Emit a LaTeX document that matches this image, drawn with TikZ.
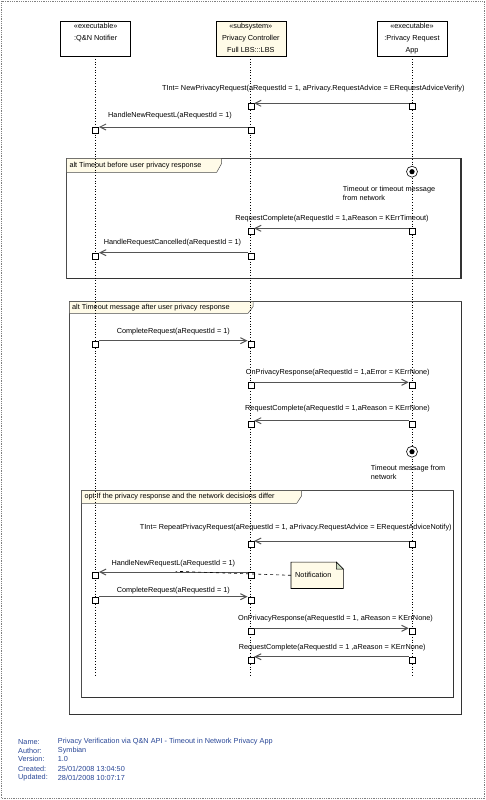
\documentclass[tikz,border=0pt]{standalone}
\usepackage{fontspec}
\setmainfont{Liberation Sans}
\usetikzlibrary{arrows.meta,positioning,backgrounds}
\definecolor{cream}{RGB}{255,251,232}
\definecolor{footblue}{RGB}{40,70,150}
\definecolor{msggray}{RGB}{85,85,85}
\definecolor{foldgreen}{RGB}{205,220,195}

\begin{document}
\begin{tikzpicture}[x=1pt,y=-1pt,
  every node/.style={font=\fontsize{7.3}{9.3}\selectfont, inner sep=0pt},
  lifebox/.style={draw, fill=white, line width=0.6pt, minimum width=70pt, minimum height=34.3pt},
  boxtext/.style={align=center, font=\fontsize{7.3}{12}\selectfont},
  actbox/.style={draw, fill=white, line width=0.6pt, anchor=north, minimum size=6pt},
  msg/.style={draw=msggray, line width=1pt, -{Straight Barb[length=6pt,width=6pt]}},
  lifeline/.style={dotted, line width=0.7pt},
  fragment/.style={draw=black!70, line width=0.6pt},
  fragedge/.style={draw=black!80, line width=1.1pt},
  tab/.style={draw=black!70, fill=cream, line width=0.5pt},
  event/.style={circle, draw, fill=white, line width=0.6pt, minimum size=11pt,
    path picture={\fill[black] (path picture bounding box.center) circle (2.6pt);}},
  notebox/.style={text width=44pt, align=left, inner xsep=4pt, minimum height=26pt},
  notelink/.style={dashed, line width=0.6pt},
  foot/.style={anchor=west, text=footblue}]
\useasboundingbox (0,0) rectangle (486,800);
\draw[gray, densely dotted, line width=0.8pt] (1.5,1.5) rectangle (484.5,798.5);

\draw[fragment] (66.7,158.3) rectangle (461,278.3);
\draw[fragedge] (66.7,278.3) -| (461,158.3);
\draw[tab] (66.7,158.3) -- (221.7,158.3) -- (221.7,163.3) -- (216.7,172.3) -- (66.7,172.3) -- cycle;
\node[anchor=west] (A1) at (69.3,165.3) {alt Timeout before user privacy response};

\draw[fragment] (69.3,301.7) rectangle (461.7,714.3);
\draw[fragedge] (69.3,714.3) -| (461.7,301.7);
\draw[tab] (69.3,301.7) -- (253,301.7) -- (253,306.7) -- (248,313.3) -- (69.3,313.3) -- cycle;
\node[anchor=west] (A2) at (71.9,307.5) {alt Timeout message after user privacy response};

\draw[fragment] (81.7,490.7) rectangle (453.3,697.3);
\draw[fragedge] (81.7,697.3) -| (453.3,490.7);
\draw[tab] (81.7,490.7) -- (301.7,490.7) -- (301.7,495.7) -- (296.7,503.3) -- (81.7,503.3) -- cycle;
\node[anchor=west] (O1) at (84.3,497) {opt If the privacy response and the network decisions differ};

\node[lifebox] (QN) at (95.7,38.85) {};
\node[lifebox, fill=cream] (PC) at (250.8,38.85) {};
\node[lifebox] (PRA) at (412,38.85) {};
\node[boxtext, below=1.8pt of QN.north] (QNt) {«executable»\\:Q\&N Notifier};
\node[boxtext, below=1.8pt of PC.north] (PCt) {«subsystem»\\Privacy Controller\\Full LBS:::LBS};
\node[boxtext, below=1.8pt of PRA.north] (PRAt) {«executable»\\:Privacy Request\\App};

\coordinate (QNend) at (95.7,676);
\coordinate (PCend) at (250.8,676);
\coordinate (PRAend) at (412,676);
\draw[lifeline] (QN) -- (QNend);
\draw[lifeline] (PC) -- (PCend);
\draw[lifeline] (PRA) -- (PRAend);

\node[event] (E1) at (412,171.7) {};
\node[anchor=north west, align=left] (E1t) at (342.7,185.8) {Timeout or timeout message\\from network};
\node[event] (E2) at (412,451.7) {};
\node[anchor=north west, align=left] (E2t) at (370.7,465.1) {Timeout message from\\network};

\node[actbox] (PRA1) at (412,103.3) {};
\node[actbox] (PC1) at (250.8,103.3) {};
\node[actbox] (PC2) at (250.8,127) {};
\node[actbox] (QN1) at (95.7,127) {};
\node[actbox] (PRA2) at (412,228.3) {};
\node[actbox] (PC3) at (250.8,228.3) {};
\node[actbox] (PC4) at (250.8,252.7) {};
\node[actbox] (QN2) at (95.7,252.7) {};
\node[actbox] (QN3) at (95.7,340.7) {};
\node[actbox] (PC5) at (250.8,340.7) {};
\node[actbox] (PC6) at (250.8,382.3) {};
\node[actbox] (PRA3) at (412,382.3) {};
\node[actbox] (PRA4) at (412,420.7) {};
\node[actbox] (PC7) at (250.8,420.7) {};
\node[actbox] (PRA5) at (412,541) {};
\node[actbox] (PC8) at (250.8,541) {};
\node[actbox] (PC9) at (250.8,572) {};
\node[actbox] (QN4) at (95.7,572) {};
\node[actbox] (QN5) at (95.7,596.7) {};
\node[actbox] (PC10) at (250.8,596.7) {};
\node[actbox] (PC11) at (250.8,628.3) {};
\node[actbox] (PRA6) at (412,628.3) {};
\node[actbox] (PRA7) at (412,656.7) {};
\node[actbox] (PC12) at (250.8,656.7) {};

\draw[msg] (PRA1.north west) -- (PC1.north east);
\draw[msg] (PC2.north west) -- (QN1.north east);
\draw[msg] (PRA2.north west) -- (PC3.north east);
\draw[msg] (PC4.north west) -- (QN2.north east);
\draw[msg] (QN3.north east) -- (PC5.north west);
\draw[msg] (PC6.north east) -- (PRA3.north west);
\draw[msg] (PRA4.north west) -- (PC7.north east);
\draw[msg] (PRA5.north west) -- (PC8.north east);
\draw[msg] (PC9.north west) -- (QN4.north east);
\draw[msg] (QN5.north east) -- (PC10.north west);
\draw[msg] (PC11.north east) -- (PRA6.north west);
\draw[msg] (PRA7.north west) -- (PC12.north east);

\node (M1) at (313.3,89) {TInt= NewPrivacyRequest(aRequestId = 1, aPrivacy.RequestAdvice = ERequestAdviceVerify)};
\node (M2) at (170,116) {HandleNewRequestL(aRequestId = 1)};
\node (M3) at (332,219) {RequestComplete(aRequestId = 1,aReason = KErrTimeout)};
\node (M4) at (172.5,242.3) {HandleRequestCancelled(aRequestId = 1)};
\node (M5) at (173.3,331.7) {CompleteRequest(aRequestId = 1)};
\node (M6) at (337.8,372.7) {OnPrivacyResponse(aRequestId = 1,aError = KErrNone)};
\node (M7) at (337.5,408.3) {RequestComplete(aRequestId = 1,aReason = KErrNone)};
\node (M8) at (295.8,527.3) {TInt= RepeatPrivacyRequest(aRequestId = 1, aPrivacy.RequestAdvice = ERequestAdviceNotify)};
\node (M9) at (173.3,563.3) {HandleNewRequestL(aRequestId = 1)};
\node (M10) at (173.3,591) {CompleteRequest(aRequestId = 1)};
\node (M11) at (335.5,619) {OnPrivacyResponse(aRequestId = 1, aReason = KErrNone)};
\node (M12) at (332.2,647.3) {RequestComplete(aRequestId = 1 ,aReason = KErrNone)};

\node[notebox] (NOTE) at (317.2,575.3) {Notification};
\begin{scope}[on background layer]
\draw[fill=cream, line width=0.6pt] (NOTE.north west) -- ([xshift=-7pt]NOTE.north east) -- ([yshift=-7pt]NOTE.north east) -- (NOTE.south east) -- (NOTE.south west) -- cycle;
\end{scope}
\draw[fill=foldgreen, line width=0.6pt] ([xshift=-7pt]NOTE.north east) -- ([xshift=-7pt,yshift=-7pt]NOTE.north east) -- ([yshift=-7pt]NOTE.north east) -- cycle;
\coordinate (M9mid) at (175.7,571.3);
\draw[notelink] (NOTE.west) -- (M9mid);

\node[foot] (F1) at (18,741.7) {Name:};
\node[foot] (F2) at (18,750.7) {Author:};
\node[foot] (F3) at (18,759.3) {Version:};
\node[foot] (F4) at (18,768.7) {Created:};
\node[foot] (F5) at (18,777.7) {Updated:};
\node[foot] (V1) at (57.7,741.7) {Privacy Verification via Q\&N API - Timeout in Network Privacy App};
\node[foot] (V2) at (57.7,750.7) {Symbian};
\node[foot] (V3) at (57.7,759.3) {1.0};
\node[foot] (V4) at (57.7,768.7) {25/01/2008 13:04:50};
\node[foot] (V5) at (57.7,777.7) {28/01/2008 10:07:17};
\end{tikzpicture}
\end{document}
